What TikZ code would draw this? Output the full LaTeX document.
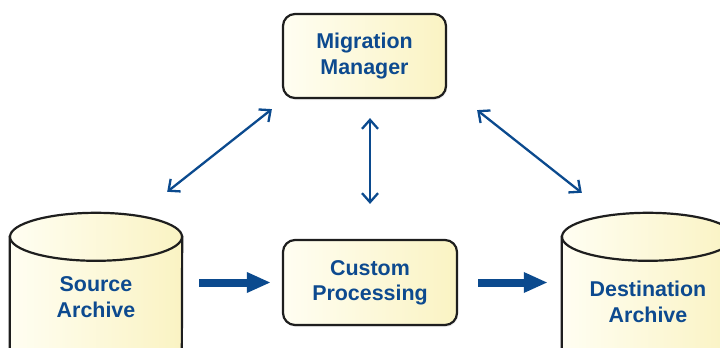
\documentclass[tikz,border=0pt]{standalone}
\usepackage{fontspec}
\setmainfont{Liberation Sans}
\usepackage{tikz}
\usetikzlibrary{arrows.meta,shadows,backgrounds}
\definecolor{txtblue}{HTML}{0D4A8F}
\definecolor{arrblue}{HTML}{0B4A8E}
\definecolor{boxlight}{HTML}{FFFEF2}
\definecolor{boxdark}{HTML}{FAF3C3}
\definecolor{edge}{HTML}{1E1E1E}

\begin{document}
\begin{tikzpicture}[x=1bp,y=1bp,
  lbl/.style={text=txtblue,font=\fontsize{21.5}{25.5}\selectfont\bfseries,align=center},
  box/.style={lbl,draw=edge,line width=2.2bp,rounded corners=12bp,left color=boxlight,right color=boxdark,
    drop shadow={opacity=0.15,shadow xshift=1bp,shadow yshift=-2bp}},
  drum/.style={draw=edge,line width=2.2bp,left color=boxlight,right color=boxdark},
  linkarrow/.style={draw=arrblue,line width=2.3bp,{Straight Barb[length=9bp,width=16bp]}-{Straight Barb[length=9bp,width=16bp]}},
  flowarrow/.style={draw=arrblue,line width=8bp,-{Triangle[length=24bp,width=19bp]}}]
  \useasboundingbox (0,0) rectangle (720,347);
  \node[box,minimum width=163bp,minimum height=84bp] (mgr) at (364.5,291) {Migration\\Manager};
  \node[box,minimum width=174bp,minimum height=85bp] (proc) at (370,64.5) {Custom\\Processing};
  \node[lbl,minimum width=172bp,minimum height=120bp] (src) at (96,50) {Source\\Archive};
  \node[lbl,minimum width=172bp,minimum height=130bp] (dst) at (648,45) {Destination\\Archive};
  \begin{scope}[on background layer]
    \foreach \n in {src,dst} {
      \path[drum] (\n.north west) -- (\n.south west) arc[start angle=180,end angle=360,x radius=86bp,y radius=24bp] -- (\n.north east) -- cycle;
      \path[drum] (\n.north) ellipse[x radius=86bp,y radius=24bp];
    }
  \end{scope}
  \draw[flowarrow,shorten <=17bp,shorten >=11bp] (proc.west -| src.east) -- (proc.west);
  \draw[flowarrow,shorten <=20bp,shorten >=14bp] (proc.east) -- (proc.east -| dst.west);
  \draw[linkarrow] ([shift={(-15,45)}]src.north east) -- ([shift={(-10,-10)}]mgr.south west);
  \draw[linkarrow,shorten <=35bp,shorten >=19bp] (proc.north) -- (proc.north |- mgr.south);
  \draw[linkarrow] ([shift={(30,-11)}]mgr.south east) -- ([shift={(20,44)}]dst.north west);
\end{tikzpicture}
\end{document}
